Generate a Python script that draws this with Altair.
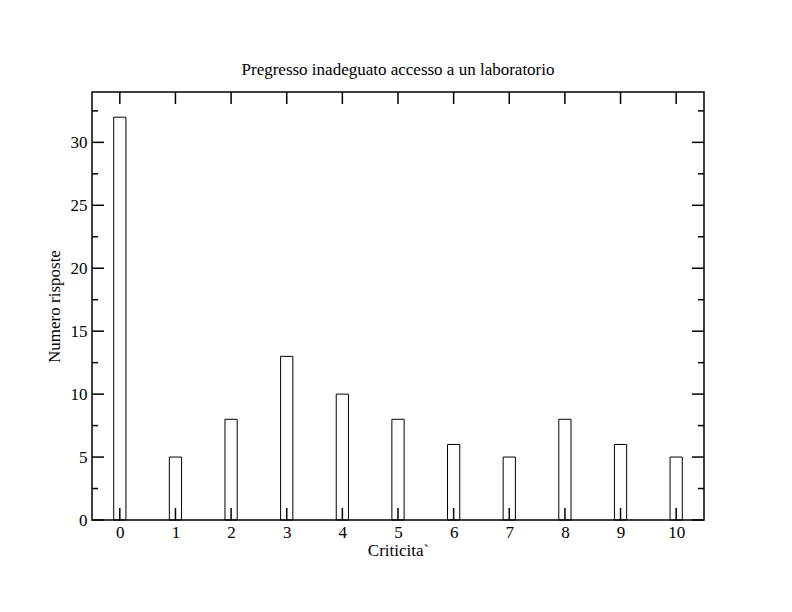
import altair as alt
import pandas as pd

categories = [0, 1, 2, 3, 4, 5, 6, 7, 8, 9, 10]
counts = [32, 5, 8, 13, 10, 8, 6, 5, 8, 6, 5]
x_ticks = [0, 1, 2, 3, 4, 5, 6, 7, 8, 9, 10]
y_major = [0, 5, 10, 15, 20, 25, 30]
y_minor = [2.5, 7.5, 12.5, 17.5, 22.5, 27.5, 32.5]

W, H = 612, 428
FONT = "Liberation Serif"

df = pd.DataFrame({"c": categories, "n": counts})
xt = pd.DataFrame({"t": x_ticks})
ymaj = pd.DataFrame({"t": y_major})
ymin = pd.DataFrame({"t": y_minor})

xscale = alt.Scale(domain=[-0.5, 10.5], nice=False, zero=False)
yscale = alt.Scale(domain=[0, 34], nice=False)

bars = alt.Chart(df).transform_calculate(
    x0="datum.c - 0.11", x1="datum.c + 0.11", y0="0"
).mark_rect(fill="white", stroke="black", strokeWidth=1).encode(
    x=alt.X("x0:Q", scale=xscale, title="Criticita`",
            axis=alt.Axis(values=x_ticks, format="d", ticks=False, domain=False, grid=False,
                          labelFont=FONT, labelFontSize=17, labelColor="black",
                          labelPadding=4, titleFont=FONT, titleFontSize=17,
                          titleFontWeight="normal", titleColor="black", titlePadding=2)),
    x2="x1:Q",
    y=alt.Y("n:Q", scale=yscale, title="Numero risposte",
            axis=alt.Axis(values=y_major, format="d", ticks=False, domain=False, grid=False,
                          labelFont=FONT, labelFontSize=17, labelColor="black",
                          labelPadding=5, titleFont=FONT, titleFontSize=17,
                          titleFontWeight="normal", titleColor="black", titlePadding=7)),
    y2="y0:Q",
)

tick_style = dict(color="black", strokeWidth=1.5)

frame = alt.Chart(pd.DataFrame({"a": [0]})).mark_rect(
    fill=None, stroke="black", strokeWidth=1.5
).encode(x=alt.value(0), x2=alt.value(W), y=alt.value(0), y2=alt.value(H))

bottom_ticks = alt.Chart(xt).mark_rule(**tick_style).encode(
    x=alt.X("t:Q", scale=xscale), y=alt.value(H), y2=alt.value(H - 12))
top_ticks = alt.Chart(xt).mark_rule(**tick_style).encode(
    x=alt.X("t:Q", scale=xscale), y=alt.value(0), y2=alt.value(12))
left_major = alt.Chart(ymaj).mark_rule(**tick_style).encode(
    y=alt.Y("t:Q", scale=yscale), x=alt.value(0), x2=alt.value(12))
left_minor = alt.Chart(ymin).mark_rule(**tick_style).encode(
    y=alt.Y("t:Q", scale=yscale), x=alt.value(0), x2=alt.value(6))
right_major = alt.Chart(ymaj).mark_rule(**tick_style).encode(
    y=alt.Y("t:Q", scale=yscale), x=alt.value(W), x2=alt.value(W - 12))
right_minor = alt.Chart(ymin).mark_rule(**tick_style).encode(
    y=alt.Y("t:Q", scale=yscale), x=alt.value(W), x2=alt.value(W - 6))

chart = alt.layer(
    bars, frame, bottom_ticks, top_ticks, left_major, left_minor, right_major, right_minor
).properties(
    width=W, height=H,
    background="white",
    title=alt.TitleParams("Pregresso inadeguato accesso a un laboratorio",
                          font=FONT, fontSize=17, fontWeight="normal", color="black",
                          offset=12, anchor="middle"),
    autosize=alt.AutoSizeParams(type="none"),
    padding={"left": 84, "top": 84, "right": 80, "bottom": 84},
).configure_view(stroke=None)

chart.save("out.html", embed_options={"renderer": "svg", "actions": False})
